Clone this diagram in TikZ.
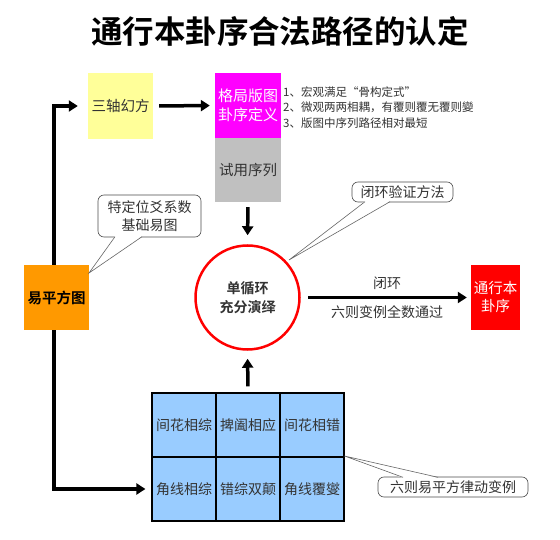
\documentclass[tikz,border=0pt]{standalone}
\usepackage{fontspec}
\setmainfont{Noto Sans CJK SC}[BoldFont={Noto Sans CJK SC Bold}]
\usetikzlibrary{arrows.meta,calc}
\definecolor{yel}{HTML}{FFFF99}
\definecolor{mag}{HTML}{FF00FF}
\definecolor{gry}{HTML}{C0C0C0}
\definecolor{org}{HTML}{FF9900}
\definecolor{lblue}{HTML}{99CCFF}
\definecolor{txt}{HTML}{333333}
\tikzset{
  box/.style={draw=none, inner sep=0pt, align=center, font=\fontsize{14.5}{18}\selectfont, text=txt},
  cell/.style={draw=black, line width=1.2pt, fill=lblue, minimum width=64, minimum height=64, inner sep=0pt, font=\fontsize{14}{16}\selectfont, text=txt},
  bigarrow/.style={line width=3.5pt, -{Triangle[length=9pt,width=11pt]}},
  callout/.style={draw=black!70, rounded corners=6pt, fill=white, line width=0.6pt, align=center, inner sep=0pt, font=\fontsize{14}{18}\selectfont, text=txt},
  pointer/.style={draw=black!60, line width=0.6pt},
  note/.style={anchor=west, inner sep=0pt, font=\fontsize{11.5}{13}\selectfont, text=txt}
}
\begin{document}
\begin{tikzpicture}[x=1pt,y=-1pt]
\useasboundingbox (0,0) rectangle (560,540);
% title
\node[font=\bfseries\fontsize{31.5}{34}\selectfont] (title) at (280,31) {通行本卦序合法路径的认定};
% boxes
\node[box, fill=yel, minimum width=65, minimum height=66] (sz) at (120.5,106) {三轴幻方};
\node[box, fill=mag, text=white, minimum width=66, minimum height=65, font=\fontsize{15}{19}\selectfont] (gj) at (248,105.5) {格局版图\\卦序定义};
\node[box, fill=gry, minimum width=66, minimum height=64] (sy) at (248,170) {试用序列};
\node[box, fill=org, text=black, minimum width=65, minimum height=65, font=\bfseries\fontsize{14.5}{18}\selectfont] (ysf) at (56.5,297.5) {易平方图};
\node[box, fill=red, text=white, minimum width=49, minimum height=65] (tx) at (495.5,297.5) {通行本\\卦序};
\node[circle, draw=red, line width=2.5pt, minimum size=104, inner sep=0pt, align=center, font=\bfseries\fontsize{14}{19}\selectfont, text=txt] (c) at (247.5,297.5) {单循环\\充分演绎};
% notes
\node[note] (n1) at (283,92) {1、宏观满足“骨构定式”};
\node[note] (n2) at (283,107) {2、微观两两相耦，有覆则覆无覆则變};
\node[note] (n3) at (283,123) {3、版图中序列路径相对最短};
% grid
\node[cell] (g11) at (184,425) {间花相综};
\node[cell] (g12) at (248,425) {捭阖相应};
\node[cell] (g13) at (312,425) {间花相错};
\node[cell] (g21) at (184,489) {角线相综};
\node[cell] (g22) at (248,489) {错综双颠};
\node[cell] (g23) at (312,489) {角线覆燮};
% arrows
\draw[bigarrow, shorten <=6pt, shorten >=5pt] (sz.east) -- (gj.west);
\draw[bigarrow, shorten <=5pt, shorten >=9pt] (sy.south) -- (c.north);
\draw[bigarrow, shorten <=6pt, shorten >=8pt] (g12.north) -- (c.south);
\draw[bigarrow, shorten <=7.5pt, shorten >=4pt] (c.east) -- (tx.west);
\draw[bigarrow, shorten >=10pt] ([xshift=-2.5pt]ysf.north) |- (sz.west);
\draw[bigarrow, shorten >=6pt] ([xshift=-2.5pt]ysf.south) |- (g21.west);
% arrow labels
\node[font=\fontsize{14}{16}\selectfont, text=txt] (lb1) at (387,283) {闭环};
\node[font=\fontsize{14}{16}\selectfont, text=txt] (lb2) at (387,312) {六则变例全数通过};
% callouts
\node[callout, minimum width=101, minimum height=20] (co1) at (402.5,192) {闭环验证方法};
\coordinate (t1) at (289,260);
\fill[white] (365,201) -- (t1) -- (390,201) -- cycle;
\draw[pointer] (365,201.7) -- (t1) -- (390,201.7);

\node[callout, minimum width=103, minimum height=42] (co2) at (149.5,216) {特定位爻系数\\基础易图};
\coordinate (t2) at (89,273);
\fill[white] (115,236) -- (t2) -- (142,236) -- cycle;
\draw[pointer] (115,236.7) -- (t2) -- (142,236.7);

\node[callout, minimum width=150, minimum height=20] (co3) at (453,487) {六则易平方律动变例};
\coordinate (t3) at (344.5,456);
\fill[white] (403,478) -- (t3) -- (438,478) -- cycle;
\draw[pointer] (403,477.3) -- (t3) -- (438,477.3);
\end{tikzpicture}
\end{document}
